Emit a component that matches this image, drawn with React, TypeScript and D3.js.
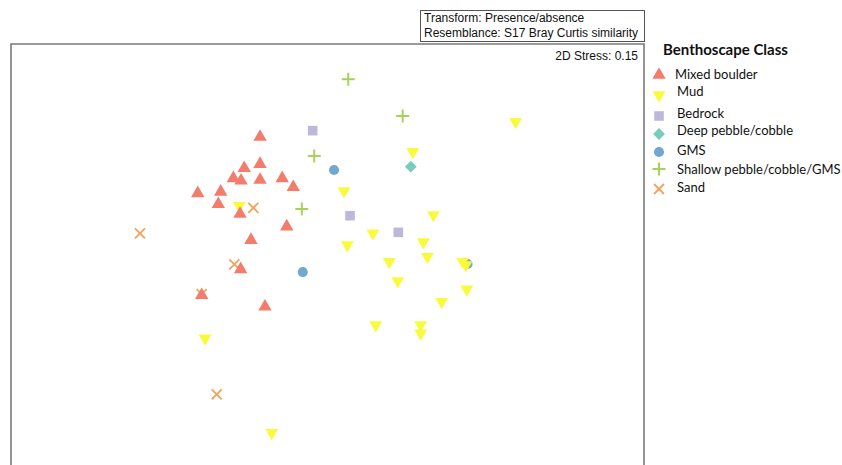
import React from "react";
import * as d3 from "d3";

type Pt = [number, number];

const classNames = [
  "Mixed boulder",
  "Mud",
  "Bedrock",
  "Deep pebble/cobble",
  "GMS",
  "Shallow pebble/cobble/GMS",
  "Sand",
];

const mixedBoulder: Pt[] = [
  [-0.341, 1.13], [-0.341, 0.993], [-0.421, 0.972], [-0.476, 0.921], [-0.437, 0.909],
  [-0.341, 0.913], [-0.229, 0.921], [-0.173, 0.876], [-0.656, 0.845], [-0.54, 0.853],
  [-0.552, 0.79], [-0.442, 0.741], [-0.206, 0.677], [-0.387, 0.609], [-0.439, 0.461],
  [-0.636, 0.33], [-0.316, 0.272],
];
const mud: Pt[] = [
  [0.951, 1.207], [0.431, 1.056], [0.083, 0.857], [-0.446, 0.783], [0.535, 0.736],
  [0.229, 0.643], [0.484, 0.599], [0.1, 0.584], [0.505, 0.525], [0.312, 0.499],
  [0.683, 0.501], [0.7, 0.483], [0.355, 0.402], [0.704, 0.36], [0.577, 0.297],
  [0.244, 0.179], [0.471, 0.179], [0.471, 0.138], [-0.619, 0.112], [-0.282, -0.365],
];
const bedrock: Pt[] = [[-0.075, 1.162], [0.114, 0.732], [0.358, 0.648]];
const deepPebble: Pt[] = [[0.421, 0.98]];
const gms: Pt[] = [[0.033, 0.963], [-0.125, 0.447], [0.708, 0.488]];
const shallow: Pt[] = [[0.105, 1.422], [0.38, 1.236], [-0.067, 1.034], [-0.13, 0.766]];
const sand: Pt[] = [[-0.375, 0.772], [-0.948, 0.643], [-0.471, 0.486], [-0.636, 0.336], [-0.56, -0.171]];

const seriesData: Pt[][] = [mixedBoulder, mud, bedrock, deepPebble, gms, shallow, sand];
const colors = ["#F47C6C", "#FAFA3C", "#BDB7DA", "#78CDB9", "#72A8CF", "#A5D35A", "#F3A25A"];
const shapes = ["up", "down", "square", "diamond", "circle", "plus", "cross"];

const headerLines = ["Transform: Presence/absence", "Resemblance: S17 Bray Curtis similarity"];
const stressLabel = "2D Stress: 0.15";
const legendTitle = "Benthoscape Class";

const W = 842;
const H = 465;
const plot = { left: 11, top: 44, right: 644, bottom: 677 };

function Marker({ shape, color, x, y }: { shape: string; color: string; x: number; y: number }) {
  if (shape === "up") {
    return <path d={d3.symbol(d3.symbolTriangle, 78)()!} transform={`translate(${x},${y})`} fill={color} />;
  }
  if (shape === "down") {
    return <path d={d3.symbol(d3.symbolTriangle, 72)()!} transform={`translate(${x},${y}) rotate(180)`} fill={color} />;
  }
  if (shape === "square") {
    return <path d={d3.symbol(d3.symbolSquare, 92)()!} transform={`translate(${x},${y})`} fill={color} />;
  }
  if (shape === "diamond") {
    return <path d={d3.symbol(d3.symbolSquare, 70)()!} transform={`translate(${x},${y}) rotate(45)`} fill={color} />;
  }
  if (shape === "circle") {
    return <path d={d3.symbol(d3.symbolCircle, 80)()!} transform={`translate(${x},${y})`} fill={color} />;
  }
  if (shape === "plus") {
    const s = 6.5;
    return (
      <g transform={`translate(${x},${y})`} stroke={color} strokeWidth={2}>
        <line x1={-s} x2={s} y1={0} y2={0} />
        <line x1={0} x2={0} y1={-s} y2={s} />
      </g>
    );
  }
  const s = 5;
  return (
    <g transform={`translate(${x},${y})`} stroke={color} strokeWidth={1.8}>
      <line x1={-s} x2={s} y1={-s} y2={s} />
      <line x1={-s} x2={s} y1={s} y2={-s} />
    </g>
  );
}

export default function App() {
  const xScale = d3.scaleLinear().domain([-1.6, 1.6]).range([plot.left, plot.right]);
  const yScale = d3.scaleLinear().domain([-1.6, 1.6]).range([plot.bottom, plot.top]);

  const drawOrder = [6, 5, 4, 3, 2, 1, 0];
  const legendTextY = [79, 96, 118, 135, 155, 174, 192];
  const legendSymY = [75, 95, 116, 134, 152, 169, 189];

  return (
    <svg
      width={W}
      height={H}
      style={{ position: "absolute", left: 0, top: 0, background: "#fff" }}
      fontFamily="'Liberation Sans', Arial, sans-serif"
    >
      <rect x={0} y={0} width={W} height={H} fill="#fff" />
      {/* header box */}
      <rect x={420.5} y={10.5} width={224} height={31} fill="none" stroke="#555" strokeWidth={1} />
      {headerLines.map((t, i) => (
        <text key={t} x={424} y={22 + i * 15} fontSize={12} fill="#111">
          {t}
        </text>
      ))}
      {/* plot frame */}
      <path
        d={`M${plot.left},${H + 5} V${plot.top} H${plot.right} V${H + 5}`}
        fill="none"
        stroke="#7a7a7a"
        strokeWidth={1.6}
      />
      <text x={638} y={60} fontSize={12} textAnchor="end" fill="#111">
        {stressLabel}
      </text>
      {/* points */}
      {drawOrder.map((si) =>
        seriesData[si].map((p, j) => (
          <Marker key={`${si}-${j}`} shape={shapes[si]} color={colors[si]} x={xScale(p[0])} y={yScale(p[1])} />
        ))
      )}
      {/* legend */}
      <text x={663} y={55} fontFamily="Lato, 'Open Sans', sans-serif" fontWeight="bold" fontSize={15} fill="#111">
        {legendTitle}
      </text>
      {classNames.map((name, i) => (
        <g key={name}>
          <Marker shape={shapes[i]} color={colors[i]} x={659} y={legendSymY[i]} />
          <text x={i === 0 ? 675 : 677} y={legendTextY[i]} fontFamily="Lato, 'Open Sans', sans-serif" fontSize={13} fill="#111">
            {name}
          </text>
        </g>
      ))}
    </svg>
  );
}
